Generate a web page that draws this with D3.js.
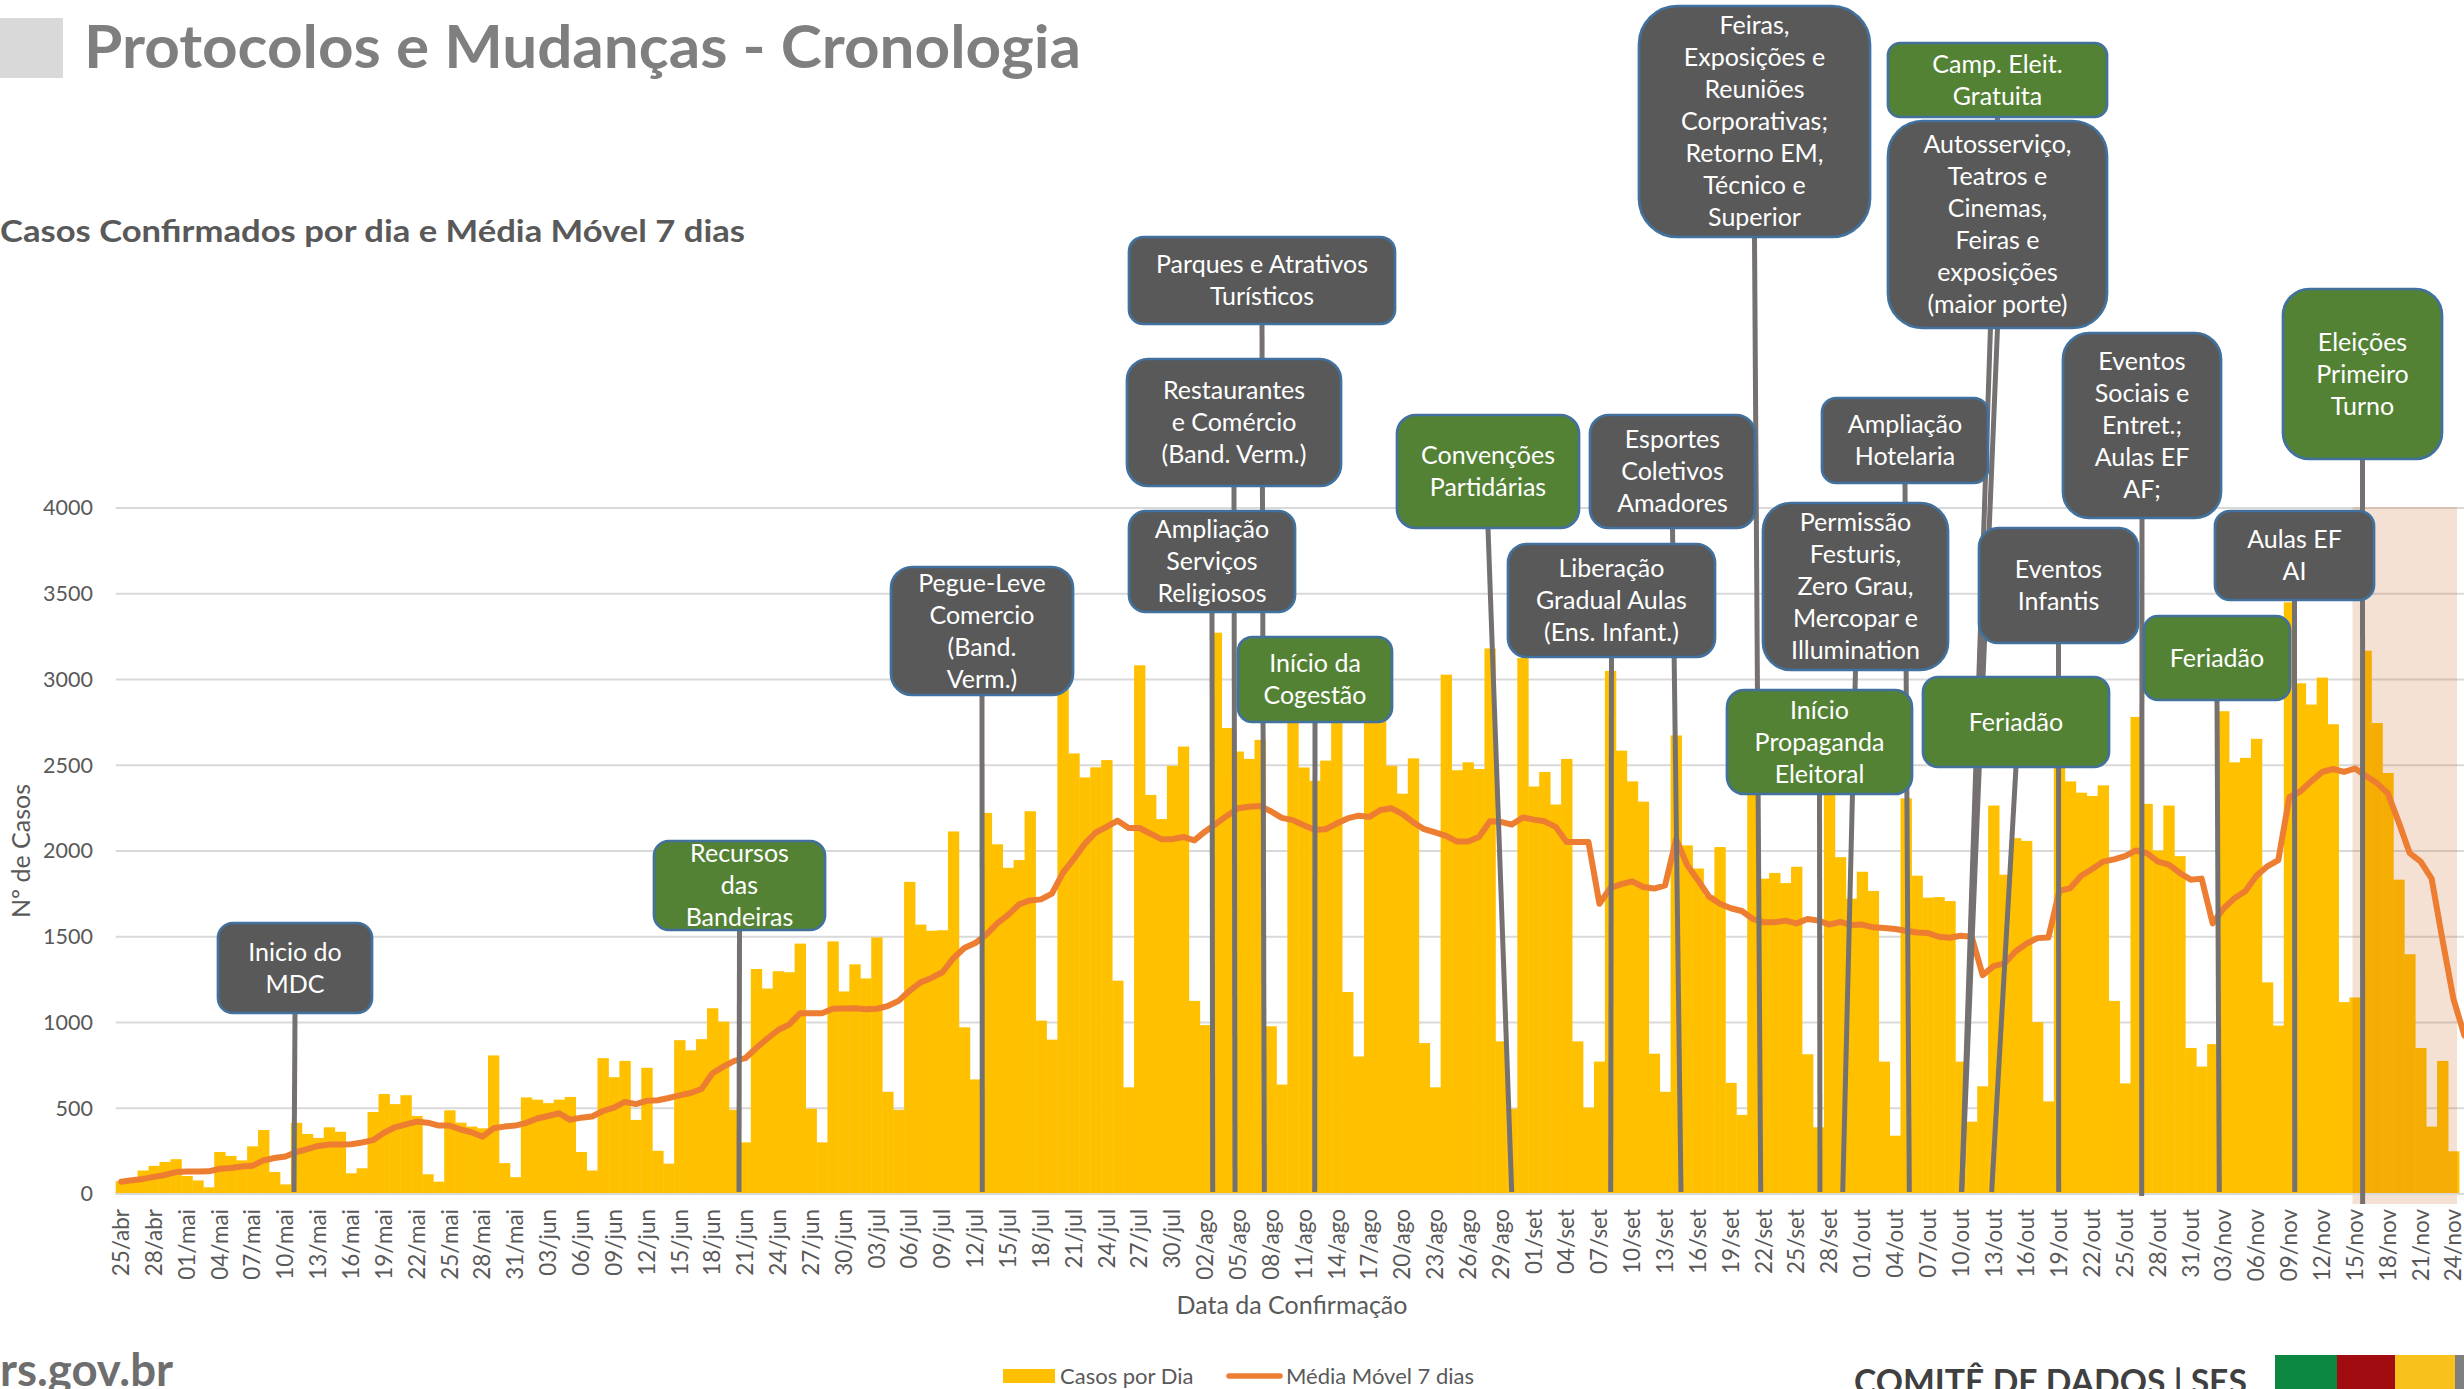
<!DOCTYPE html>
<html><head><meta charset="utf-8">
<script src="https://cdnjs.cloudflare.com/ajax/libs/d3/7.8.5/d3.min.js"></script>
<style>html,body{margin:0;padding:0;background:#fff;overflow:hidden} svg{display:block;font-family:Lato,'Open Sans',sans-serif}</style>
</head><body><svg id="c" width="2464" height="1389"></svg>
<script>
// ---------------- DATA ----------------
const categories = [
"25/abr","26/abr","27/abr","28/abr","29/abr","30/abr",
"01/mai","02/mai","03/mai","04/mai","05/mai","06/mai","07/mai","08/mai","09/mai","10/mai","11/mai","12/mai","13/mai","14/mai","15/mai","16/mai","17/mai","18/mai","19/mai","20/mai","21/mai","22/mai","23/mai","24/mai","25/mai","26/mai","27/mai","28/mai","29/mai","30/mai","31/mai",
"01/jun","02/jun","03/jun","04/jun","05/jun","06/jun","07/jun","08/jun","09/jun","10/jun","11/jun","12/jun","13/jun","14/jun","15/jun","16/jun","17/jun","18/jun","19/jun","20/jun","21/jun","22/jun","23/jun","24/jun","25/jun","26/jun","27/jun","28/jun","29/jun","30/jun",
"01/jul","02/jul","03/jul","04/jul","05/jul","06/jul","07/jul","08/jul","09/jul","10/jul","11/jul","12/jul","13/jul","14/jul","15/jul","16/jul","17/jul","18/jul","19/jul","20/jul","21/jul","22/jul","23/jul","24/jul","25/jul","26/jul","27/jul","28/jul","29/jul","30/jul","31/jul",
"01/ago","02/ago","03/ago","04/ago","05/ago","06/ago","07/ago","08/ago","09/ago","10/ago","11/ago","12/ago","13/ago","14/ago","15/ago","16/ago","17/ago","18/ago","19/ago","20/ago","21/ago","22/ago","23/ago","24/ago","25/ago","26/ago","27/ago","28/ago","29/ago","30/ago","31/ago",
"01/set","02/set","03/set","04/set","05/set","06/set","07/set","08/set","09/set","10/set","11/set","12/set","13/set","14/set","15/set","16/set","17/set","18/set","19/set","20/set","21/set","22/set","23/set","24/set","25/set","26/set","27/set","28/set","29/set","30/set",
"01/out","02/out","03/out","04/out","05/out","06/out","07/out","08/out","09/out","10/out","11/out","12/out","13/out","14/out","15/out","16/out","17/out","18/out","19/out","20/out","21/out","22/out","23/out","24/out","25/out","26/out","27/out","28/out","29/out","30/out","31/out",
"01/nov","02/nov","03/nov","04/nov","05/nov","06/nov","07/nov","08/nov","09/nov","10/nov","11/nov","12/nov","13/nov","14/nov","15/nov","16/nov","17/nov","18/nov","19/nov","20/nov","21/nov","22/nov","23/nov","24/nov","25/nov"];

const tickLabels = ["25/abr","28/abr","01/mai","04/mai","07/mai","10/mai","13/mai","16/mai","19/mai","22/mai","25/mai","28/mai","31/mai",
"03/jun","06/jun","09/jun","12/jun","15/jun","18/jun","21/jun","24/jun","27/jun","30/jun",
"03/jul","06/jul","09/jul","12/jul","15/jul","18/jul","21/jul","24/jul","27/jul","30/jul",
"02/ago","05/ago","08/ago","11/ago","14/ago","17/ago","20/ago","23/ago","26/ago","29/ago",
"01/set","04/set","07/set","10/set","13/set","16/set","19/set","22/set","25/set","28/set",
"01/out","04/out","07/out","10/out","13/out","16/out","19/out","22/out","25/out","28/out","31/out",
"03/nov","06/nov","09/nov","12/nov","15/nov","18/nov","21/nov","24/nov"];

const yTicks = [0,500,1000,1500,2000,2500,3000,3500,4000];

const casosPorDia = [
75,70,137,164,187,203,105,79,39,245,
222,196,278,373,128,56,415,350,327,389,
363,121,150,478,583,524,576,455,115,72,
488,416,393,383,808,180,98,563,550,530,
550,566,245,137,792,681,776,432,736,252,
177,897,838,903,1083,1005,491,301,1312,1198,
1299,1293,1460,497,301,1473,1181,1339,1257,1496,
596,491,1820,1571,1535,1538,2114,972,668,2222,
2039,1902,1947,2232,1011,900,2950,2569,2429,2488,
2530,1244,622,3083,2327,2186,2497,2609,1126,985,
3273,2717,2580,2537,2648,978,638,2800,2487,2409,
2527,2850,1178,802,2900,2820,2497,2334,2540,880,
622,3028,2471,2517,2478,3181,890,497,3125,2376,
2461,2271,2537,890,504,772,3050,2585,2406,2288,
818,596,2674,2033,1898,1741,2023,648,461,2450,
1839,1872,1813,1908,815,389,2400,1964,1722,1879,
1767,772,340,2307,1856,1728,1731,1708,772,422,
628,2265,1862,2075,2059,1002,540,2550,2406,2340,
2321,2383,1126,645,2782,2275,2003,2265,1970,851,
743,874,2815,2517,2543,2654,1234,982,3450,2978,
2854,3011,2739,1119,1146,3168,2746,2455,1833,1398,
851,393,776,249];

const mediaMovel = [
72,80,88,100,111,128,131,131,132,147,
152,160,165,196,210,219,245,262,280,288,
288,290,300,314,357,389,406,422,416,399,
399,376,360,334,383,393,399,415,440,455,
471,432,445,452,484,504,537,524,543,547,
560,575,589,612,704,743,776,792,851,906,
956,988,1054,1054,1054,1080,1082,1083,1077,1080,
1096,1126,1185,1234,1260,1293,1375,1434,1463,1512,
1578,1627,1689,1712,1718,1751,1872,1954,2042,2108,
2141,2177,2134,2134,2101,2069,2069,2082,2062,2114,
2160,2206,2249,2258,2262,2232,2193,2180,2150,2124,
2127,2160,2190,2206,2199,2239,2249,2216,2167,2127,
2108,2088,2055,2055,2082,2173,2170,2154,2196,2183,
2173,2141,2052,2052,2052,1692,1784,1807,1823,1790,
1781,1800,2069,1920,1830,1735,1692,1666,1650,1604,
1584,1584,1594,1578,1604,1594,1571,1587,1568,1571,
1555,1551,1545,1535,1525,1522,1500,1494,1506,1500,
1276,1329,1345,1414,1460,1492,1495,1767,1784,1856,
1895,1938,1951,1970,2003,1987,1938,1921,1872,1833,
1839,1578,1665,1725,1767,1856,1911,1947,2314,2347,
2406,2461,2478,2461,2481,2438,2396,2337,2167,1987,
1938,1839,1479,1136,923];

// annotations (text, kind, date where the pointer meets the axis)
const annTexts = [
 ["Inicio do","MDC"],
 ["Recursos","das","Bandeiras"],
 ["Pegue-Leve","Comercio","(Band.","Verm.)"],
 ["Parques e Atrativos","Turísticos"],
 ["Restaurantes","e Comércio","(Band. Verm.)"],
 ["Ampliação","Serviços","Religiosos"],
 ["Início da","Cogestão"],
 ["Convenções","Partidárias"],
 ["Esportes","Coletivos","Amadores"],
 ["Liberação","Gradual Aulas","(Ens. Infant.)"],
 ["Feiras,","Exposições e","Reuniões","Corporativas;","Retorno EM,","Técnico e","Superior"],
 ["Camp. Eleit.","Gratuita"],
 ["Autosserviço,","Teatros e","Cinemas,","Feiras e","exposições","(maior porte)"],
 ["Ampliação","Hotelaria"],
 ["Permissão","Festuris,","Zero Grau,","Mercopar e","Illumination"],
 ["Início","Propaganda","Eleitoral"],
 ["Feriadão"],
 ["Eventos","Infantis"],
 ["Eventos","Sociais e","Entret.;","Aulas EF","AF;"],
 ["Feriadão"],
 ["Aulas EF","AI"],
 ["Eleições","Primeiro","Turno"]
];
const annKinds = ["dark","green","dark","dark","dark","dark","green","green","dark","dark","dark","green","dark","dark","dark","green","green","dark","dark","green","dark","green"];
const annDates = ["11/mai","20/jun","13/jul","07/ago","05/ago","03/ago","12/ago","30/ago","14/set","08/set","22/set","10/out","10/out","05/out","29/set","27/set","13/out","19/out","27/out","03/nov","10/nov","15/nov"];
const shadeRange = ["15/nov","24/nov"];

// ---------------- LAYOUT ----------------
const W = 2464, H = 1389;
const plotL = 115.7, bandW = 10.95, yBase = 1194, yTop = 508;
// pointer position inside the band (fraction), box geometry [x,y,w,h], pointer end below the axis
const annOffsets = [0.28,0.92,0.14,0.9,0.22,0.18,0.5,0.49,0.95,0.53,0.23,0.58,0.58,0.8,0.72,0.64,0.32,0.44,0.02,0.11,0.0,1.2];
const annBoxes = [
 [218,923,154,90],[654,841,171,89],[891,567,182,128],[1129,237,266,87],[1127,359,214,127],
 [1129,511,166,101],[1238,637,154,85],[1397,415,182,113],[1590,415,165,113],[1508,544,207,113],
 [1639,6,231,231],[1888,43,219,74],[1888,121,219,207],[1822,398,166,85],[1763,503,185,167],
 [1727,690,185,104],[1923,677,186,90],[1979,528,159,115],[2063,333,158,185],[2144,616,146,84],
 [2215,511,159,89],[2283,289,159,170]];
const annEnd = [1192,1192,1192,1192,1192,1192,1192,1192,1192,1192,1192,1192,1192,1192,1192,1192,1192,1192,1196,1192,1192,1204];

const svg = d3.select("#c");
svg.append("rect").attr("width",W).attr("height",H).attr("fill","#fff");

const x = d3.scaleBand().domain(categories).range([plotL, plotL + bandW*categories.length]).paddingInner(0).paddingOuter(0);
const y = d3.scaleLinear().domain([0,4000]).range([yBase, yTop]);

// header
svg.append("rect").attr("x",0).attr("y",18).attr("width",63).attr("height",60).attr("fill","#d9d9d9");
svg.append("text").attr("x",84).attr("y",68).attr("font-size",60).attr("font-weight",700).attr("fill","#7f7f7f")
  .attr("textLength",997).attr("lengthAdjust","spacingAndGlyphs").text("Protocolos e Mudanças - Cronologia");
svg.append("text").attr("x",0).attr("y",242).attr("font-size",30).attr("font-weight",700).attr("fill","#595959")
  .attr("textLength",745).attr("lengthAdjust","spacingAndGlyphs").text("Casos Confirmados por dia e Média Móvel 7 dias");

// gridlines
svg.append("g").selectAll("line").data(yTicks).join("line")
  .attr("x1",plotL).attr("x2",W).attr("y1",d=>y(d)).attr("y2",d=>y(d))
  .attr("stroke","#d9d9d9").attr("stroke-width",2);

// bars
svg.append("g").selectAll("rect").data(casosPorDia).join("rect")
  .attr("x",(d,i)=>x(categories[i])).attr("width",x.bandwidth()+0.4)
  .attr("y",d=>y(d)).attr("height",d=>y(0)-y(d)).attr("fill","#FFC000");

// shaded period
const sx0 = x(shadeRange[0]), sx1 = x(shadeRange[1]) + x.bandwidth();
svg.append("rect").attr("x",sx0+3).attr("y",yTop-1).attr("width",sx1-sx0-5).attr("height",1204-yTop+1)
  .attr("fill","#C55A11").attr("opacity",0.18);

// moving average
const line = d3.line().x((d,i)=>x(categories[i])+x.bandwidth()/2).y(d=>y(d));
svg.append("path").datum(mediaMovel).attr("d",line).attr("fill","none")
  .attr("stroke","#ED7D31").attr("stroke-width",6).attr("stroke-linejoin","round").attr("stroke-linecap","round");

// axes
const yAx = svg.append("g").attr("transform","translate(93,0)")
  .call(d3.axisLeft(y).tickValues(yTicks).tickFormat(d3.format("d")).tickSize(0).tickPadding(0));
yAx.select(".domain").remove();
yAx.selectAll("text").attr("font-family","Lato,'Open Sans',sans-serif").attr("font-size",21.5).attr("fill","#595959");

const xAx = svg.append("g").attr("transform",`translate(0,${yBase})`)
  .call(d3.axisBottom(x).tickValues(tickLabels).tickSize(0));
xAx.select(".domain").remove();
xAx.selectAll("text").attr("font-family","Lato,'Open Sans',sans-serif").attr("font-size",22.5).attr("fill","#595959")
  .attr("transform","rotate(-90)").attr("text-anchor","end").attr("x",-15).attr("y",0).attr("dy","0.35em");
svg.append("line").attr("x1",plotL).attr("x2",W).attr("y1",yBase).attr("y2",yBase).attr("stroke","#d9d9d9").attr("stroke-width",2);

svg.append("text").attr("transform","translate(30,851) rotate(-90)").attr("text-anchor","middle")
  .attr("font-size",25).attr("fill","#595959").text("Nº de Casos");
svg.append("text").attr("x",1292).attr("y",1314).attr("text-anchor","middle")
  .attr("font-size",25).attr("fill","#595959").text("Data da Confirmação");

// annotation pointers
const ann = annTexts.map((t,i)=>({t, kind:annKinds[i], date:annDates[i], off:annOffsets[i], box:annBoxes[i], end:annEnd[i]}));
svg.append("g").selectAll("line").data(ann).join("line")
  .attr("x1",d=>d.box[0]+d.box[2]/2).attr("y1",d=>d.box[1]+d.box[3])
  .attr("x2",d=>x(d.date)+d.off*x.bandwidth()).attr("y2",d=>d.end)
  .attr("stroke","#767171").attr("stroke-width",5);

// annotation boxes
const bg = svg.append("g").selectAll("g").data(ann).join("g");
bg.append("rect").attr("x",d=>d.box[0]).attr("y",d=>d.box[1]).attr("width",d=>d.box[2]).attr("height",d=>d.box[3])
  .attr("rx",d=>Math.min(d.box[2],d.box[3])*0.1667).attr("ry",d=>Math.min(d.box[2],d.box[3])*0.1667)
  .attr("fill",d=>d.kind==="green"?"#548235":"#595959").attr("stroke","#41719C").attr("stroke-width",2.7);
bg.each(function(d){
  const g = d3.select(this);
  const cx = d.box[0]+d.box[2]/2, cy = d.box[1]+d.box[3]/2, n = d.t.length;
  d.t.forEach((s,k)=>{
    g.append("text").attr("x",cx).attr("y",cy+(k-(n-1)/2)*32).attr("dy","0.35em")
      .attr("text-anchor","middle").attr("font-size",25).attr("fill","#fff").text(s);
  });
});

// legend
svg.append("rect").attr("x",1003).attr("y",1369).attr("width",52).attr("height",14).attr("fill","#FFC000");
svg.append("text").attr("x",1060).attr("y",1384).attr("font-size",22).attr("fill","#595959").text("Casos por Dia");
svg.append("line").attr("x1",1229).attr("x2",1280).attr("y1",1376).attr("y2",1376).attr("stroke","#ED7D31").attr("stroke-width",5.5).attr("stroke-linecap","round");
svg.append("text").attr("x",1286).attr("y",1384).attr("font-size",22).attr("fill","#595959").text("Média Móvel 7 dias");

// footer
svg.append("text").attr("x",0).attr("y",1386).attr("font-size",46).attr("font-weight",700).attr("fill","#6e6e6e")
  .attr("textLength",173).attr("lengthAdjust","spacingAndGlyphs").text("rs.gov.br");
svg.append("text").attr("x",1854).attr("y",1394).attr("font-size",34).attr("font-weight",700).attr("fill","#404040")
  .attr("textLength",393).attr("lengthAdjust","spacingAndGlyphs").text("COMITÊ DE DADOS | SES");
const flag = [["#0B8742",2275,2337],["#A00C10",2337,2395],["#F8C11B",2395,2455],["#7f7f7f",2455,2464]];
svg.append("g").selectAll("rect").data(flag).join("rect")
  .attr("x",d=>d[1]).attr("width",d=>d[2]-d[1]).attr("y",1355).attr("height",34).attr("fill",d=>d[0]);
</script>
</body></html>
